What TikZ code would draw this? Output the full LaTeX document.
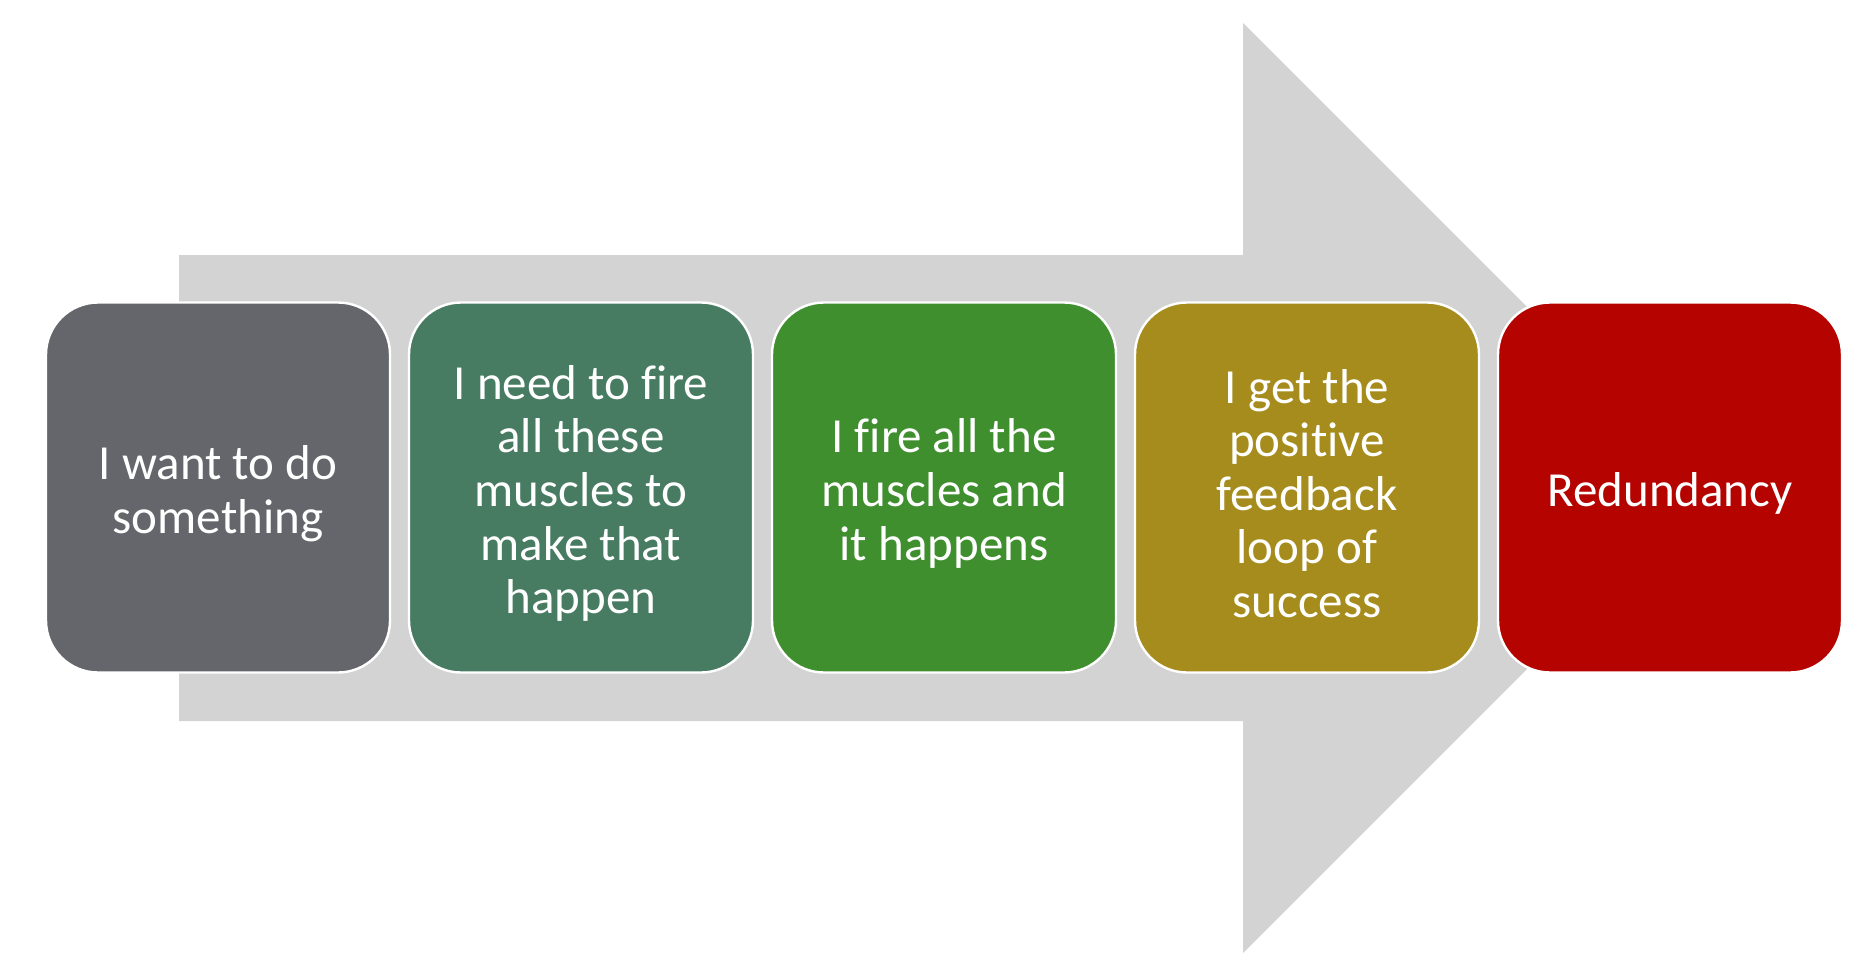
\documentclass[tikz,border=0pt]{standalone}
\usepackage{fontspec}
\setmainfont{Carlito}[Ligatures={NoCommon}]
\definecolor{arrowgray}{HTML}{D3D3D3}
\definecolor{cgray}{HTML}{65666B}
\definecolor{cteal}{HTML}{487C62}
\definecolor{cgreen}{HTML}{3F8F2F}
\definecolor{colive}{HTML}{A58C1C}
\definecolor{cred}{HTML}{B50300}
\tikzset{
  stepbox/.style={rounded corners=26pt, draw=white, line width=1.2pt,
    minimum width=172pt, minimum height=185pt, inner sep=0pt},
  steptext/.style={text=white, align=center,
    font=\fontsize{24.5}{26.8}\selectfont, inner sep=0pt},
}
\begin{document}
\begin{tikzpicture}[x=0.5pt,y=-0.5pt]
\useasboundingbox (0,0) rectangle (1864,970);
\fill[arrowgray] (179,255) -- (1243,255) -- (1243,23) -- (1708,488) -- (1243,953) -- (1243,721) -- (179,721) -- cycle;
\node[stepbox, fill=cgray]  (b1) at (218,487.5)  {};
\node[stepbox, fill=cteal]  (b2) at (581,487.5)  {};
\node[stepbox, fill=cgreen] (b3) at (944,487.5)  {};
\node[stepbox, fill=colive] (b4) at (1307,487.5) {};
\node[stepbox, fill=cred]   (b5) at (1670,487.5) {};
\node[steptext] (t1) at ([yshift=-3pt]b1.center) {I want to do\\something};
\node[steptext] (t2) at ([yshift=-3pt]b2.center) {I need to f\kern0pt ire\\all these\\muscles to\\make that\\happen};
\node[steptext] (t3) at ([yshift=-3pt]b3.center) {I f\kern0pt ire all the\\muscles and\\it happens};
\node[steptext] (t4) at ([yshift=-3pt]b4.center) {I get the\\positive\\feedback\\loop of\\success};
\node[steptext] (t5) at ([yshift=-3pt]b5.center) {Redundancy};
\end{tikzpicture}
\end{document}
